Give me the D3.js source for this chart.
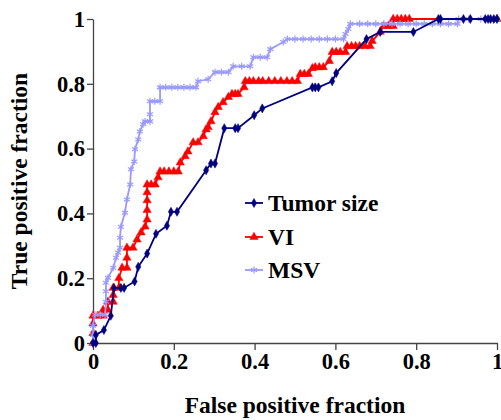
<!DOCTYPE html>
<html>
<head>
<meta charset="utf-8">
<script src="https://cdn.jsdelivr.net/npm/d3@7"></script>
<style>
  body { margin: 0; background: #fff; }
  svg { display: block; }
</style>
</head>
<body>
<svg id="chart" width="501" height="420"></svg>
<script>
const xTicks = [0, 0.2, 0.4, 0.6, 0.8, 1];
const yTicks = [0, 0.2, 0.4, 0.6, 0.8, 1];
const seriesNames = ["Tumor size", "VI", "MSV"];

const tumorFpr = [0,0.007,0.007,0.027,0.044,0.052,0.069,0.077,0.103,0.112,0.134,0.156,0.183,0.193,0.208,0.280,0.292,0.302,0.325,0.352,0.359,0.399,0.419,0.543,0.550,0.558,0.592,0.602,0.677,0.711,0.793,0.855,0.860,0.917,0.934,0.971,0.978,0.984,0.992,1];
const tumorTpr = [0,0,0.025,0.04,0.084,0.17,0.17,0.17,0.19,0.235,0.276,0.337,0.362,0.405,0.405,0.533,0.554,0.554,0.663,0.663,0.663,0.703,0.724,0.789,0.789,0.789,0.808,0.833,0.938,0.96,0.96,1,1,1,1,1,1,1,1,1];

const viFpr = [0,0,0,0,0.012,0.025,0.025,0.037,0.037,0.05,0.05,0.05,0.064,0.064,0.072,0.084,0.084,0.084,0.099,0.109,0.119,0.129,0.134,0.134,0.134,0.134,0.134,0.144,0.154,0.161,0.166,0.176,0.188,0.2,0.211,0.216,0.228,0.235,0.248,0.260,0.273,0.280,0.285,0.292,0.302,0.310,0.322,0.335,0.344,0.352,0.359,0.374,0.377,0.387,0.397,0.41,0.42,0.435,0.45,0.465,0.48,0.493,0.506,0.513,0.523,0.533,0.543,0.55,0.56,0.57,0.585,0.592,0.602,0.612,0.625,0.629,0.64,0.65,0.66,0.673,0.686,0.691,0.711,0.719,0.731,0.743,0.743,0.753,0.763,0.773,0.783,1];
const viTpr = [0,0.03,0.06,0.084,0.084,0.084,0.102,0.102,0.127,0.127,0.148,0.17,0.17,0.2,0.232,0.232,0.263,0.294,0.294,0.319,0.341,0.359,0.381,0.41,0.44,0.465,0.489,0.489,0.489,0.511,0.529,0.529,0.529,0.529,0.529,0.557,0.576,0.591,0.619,0.619,0.638,0.659,0.666,0.684,0.712,0.728,0.743,0.759,0.768,0.768,0.768,0.789,0.808,0.808,0.808,0.808,0.808,0.808,0.808,0.808,0.808,0.808,0.808,0.83,0.83,0.83,0.848,0.851,0.851,0.851,0.87,0.898,0.898,0.898,0.898,0.916,0.916,0.916,0.916,0.916,0.916,0.932,0.96,0.978,0.978,0.978,1,1,1,1,1,1];

const msvFpr = [0,0,0,0.005,0.018,0.03,0.032,0.032,0.032,0.037,0.05,0.057,0.062,0.067,0.067,0.069,0.079,0.084,0.092,0.094,0.102,0.104,0.112,0.116,0.124,0.129,0.141,0.141,0.141,0.153,0.166,0.166,0.18,0.195,0.21,0.225,0.24,0.255,0.260,0.285,0.302,0.318,0.335,0.347,0.368,0.389,0.397,0.414,0.431,0.439,0.471,0.481,0.5,0.52,0.54,0.56,0.58,0.6,0.62,0.625,0.632,0.637,0.66,0.68,0.7,0.72,0.74,0.76,0.78,0.8,0.82,0.84,0.86,0.88,0.902,0.905,0.93,0.96,1];
const msvTpr = [0,0.025,0.053,0.087,0.087,0.087,0.127,0.16,0.186,0.201,0.232,0.263,0.279,0.294,0.325,0.359,0.402,0.443,0.489,0.536,0.56,0.598,0.628,0.653,0.675,0.684,0.684,0.706,0.746,0.746,0.746,0.789,0.789,0.789,0.789,0.789,0.789,0.789,0.808,0.814,0.836,0.836,0.836,0.854,0.854,0.854,0.882,0.882,0.882,0.907,0.929,0.938,0.938,0.938,0.938,0.938,0.938,0.938,0.938,0.954,0.969,0.985,0.985,0.985,0.985,0.985,0.985,0.985,0.985,0.985,0.985,0.985,0.985,0.985,0.985,1,1,1,1];

const FONT = "'Liberation Serif', 'Times New Roman', Times, 'DejaVu Serif', serif";
const svg = d3.select("#chart");
const x = d3.scaleLinear().domain([0, 1]).range([93, 497]);
const y = d3.scaleLinear().domain([0, 1]).range([343, 19]);
const axisColor = "#444";

function styleText(sel, size) {
  sel.attr("font-family", FONT).attr("font-weight", "bold").attr("font-size", size)
     .style("font-family", FONT).style("font-weight", "bold").style("font-size", size + "px").attr("fill", "#000");
}

// axes
const gx = svg.append("g").attr("transform", "translate(0,343)")
  .call(d3.axisBottom(x).tickValues(xTicks).tickFormat(d3.format("~g")).tickSize(7).tickSizeOuter(0).tickPadding(3));
const gy = svg.append("g").attr("transform", "translate(93,0)")
  .call(d3.axisLeft(y).tickValues(yTicks).tickFormat(d3.format("~g")).tickSize(6).tickSizeOuter(0).tickPadding(2));
[gx, gy].forEach(g => {
  g.attr("font-family", FONT);
  g.selectAll("path.domain").attr("stroke", axisColor).attr("stroke-width", 1.3);
  g.selectAll(".tick line").attr("stroke", axisColor).attr("stroke-width", 1.3);
  styleText(g.selectAll(".tick text"), 22.5);
});

// axis titles
styleText(svg.append("text").attr("x", 295).attr("y", 413).attr("text-anchor", "middle")
  .text("False positive fraction"), 23.5);
styleText(svg.append("text").attr("transform", "translate(27,181) rotate(-90)").attr("text-anchor", "middle")
  .text("True positive fraction"), 23.5);

const series = [
  { name: seriesNames[1], fpr: viFpr, tpr: viTpr, color: "#ff0000", symbol: d3.symbolTriangle, size: 30, fill: true },
  { name: seriesNames[2], fpr: msvFpr, tpr: msvTpr, color: "#9999ff", symbol: d3.symbolAsterisk, size: 34, fill: false },
  { name: seriesNames[0], fpr: tumorFpr, tpr: tumorTpr, color: "#000080", symbol: d3.symbolDiamond, size: 24, fill: true }
];

const line = d3.line().x(d => x(d[0])).y(d => y(d[1]));
series.forEach(s => {
  const pts = s.fpr.map((f, i) => [f, s.tpr[i]]);
  const g = svg.append("g");
  g.append("path").attr("d", line(pts)).attr("fill", "none").attr("stroke", s.color).attr("stroke-width", 1.8);
  g.selectAll("path.m").data(pts).enter().append("path")
    .attr("class", "m")
    .attr("d", d3.symbol().type(s.symbol).size(s.size))
    .attr("transform", d => `translate(${x(d[0])},${y(d[1])})`)
    .attr("fill", s.fill ? s.color : "none")
    .attr("stroke", s.color)
    .attr("stroke-width", s.fill ? 0.5 : 1.2);
});

// legend
const legend = [
  { name: seriesNames[0], color: "#000080", symbol: d3.symbolDiamond, size: 24, fill: true, yy: 203 },
  { name: seriesNames[1], color: "#ff0000", symbol: d3.symbolTriangle, size: 30, fill: true, yy: 237 },
  { name: seriesNames[2], color: "#9999ff", symbol: d3.symbolAsterisk, size: 34, fill: false, yy: 270 }
];
legend.forEach(l => {
  svg.append("line").attr("x1", 245).attr("x2", 263).attr("y1", l.yy).attr("y2", l.yy)
    .attr("stroke", l.color).attr("stroke-width", 1.8);
  svg.append("path").attr("d", d3.symbol().type(l.symbol).size(l.size)())
    .attr("transform", `translate(254,${l.yy})`)
    .attr("fill", l.fill ? l.color : "none").attr("stroke", l.color).attr("stroke-width", l.fill ? 0.5 : 1.2);
  styleText(svg.append("text").attr("x", 268).attr("y", l.yy + 8).text(l.name), 23.5);
});
</script>
</body>
</html>
